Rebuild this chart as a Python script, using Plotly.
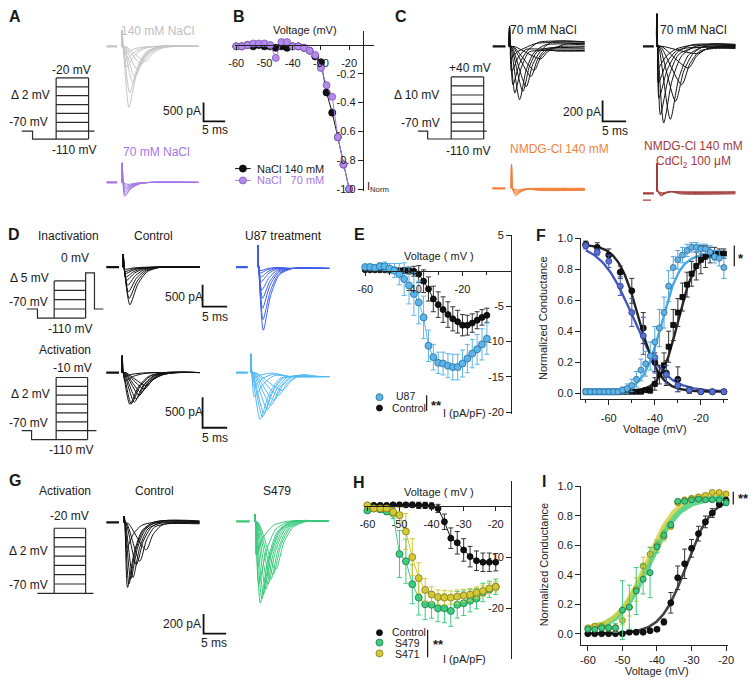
import numpy as np
import plotly.graph_objects as go

W, H = 756, 684
FONT = "Liberation Sans, Arial, Helvetica, sans-serif"

# ======================= DATA =======================
# --- Panel A example sweeps: peak time (ms), peak amplitude (pA) ---
A140_tpk = [0.7, 0.9, 1.1, 1.6, 1.8, 2.5, 3.0, 3.6, 4.5, 5.4]
A140_amp = [180, 370, 550, 1630, 1240, 970, 820, 630, 470, 400]
A70_tpk = [0.6, 0.7, 0.75, 0.8, 0.9, 1.1, 1.4]
A70_amp = [370, 320, 260, 200, 150, 100, 55]

# --- Panel B: normalized I-V ---
B_V = list(range(-60, -18, 2))
B_NaCl140 = [-0.01, -0.01, 0.0, -0.01, 0.0, -0.01, -0.01, -0.02, -0.01, -0.02, -0.01,
             -0.01, -0.02, -0.04, -0.08, -0.12, -0.33, -0.47, -0.64, -0.83, -1.0]
B_NaCl70 = [-0.01, -0.01, 0.0, 0.01, 0.01, 0.01, 0.0, -0.09, 0.02, 0.02, -0.01,
            -0.01, -0.02, -0.04, -0.07, -0.16, -0.28, -0.36, -0.64, -0.83, -1.0]

# --- Panel C example sweeps ---
C1_tpk = [0.35, 0.5, 0.8, 1.2, 2.2, 2.9, 3.6, 4.6, 5.3, 6.7]
C1_amp = [115, 245, 370, 450, 515, 435, 390, 290, 230, 120]
C1_ss = [30, -25, 40, -40, 15, -15, 45, -45, 0, 25]
C2_tpk = [0.3, 0.35, 0.5, 0.8, 1.5, 2.9, 4.0, 5.3, 6.7, 8.5]
C2_amp = [210, 355, 500, 660, 740, 705, 530, 370, 210, 70]
C2_ss = [10, -10, 15, -15, 5, -5, 20, -20, 0, 10]
C3_tpk = [0.9, 1.0, 1.1, 1.2, 1.4]
C3_amp = [70, 55, 40, 28, 15]
C3_ss = [-20, -15, -10, -5, 0]
C4_tpk = [0.9, 1.0, 1.1, 1.2]
C4_amp = [45, 35, 25, 15]
C4_ss = [-25, -18, -10, -5]

# --- Panel D example sweeps ---
D1_tpk = [0.3, 0.4, 0.45, 0.55, 0.75, 0.95, 1.1, 1.25, 1.4]
D1_amp = [50, 100, 150, 230, 300, 420, 570, 720, 870]
D2_tpk = [0.45, 0.5, 0.65, 0.7, 0.85, 1.0, 1.0, 1.1, 1.15]
D2_amp = [80, 135, 225, 340, 530, 720, 950, 1210, 1455]
D3_tpk = [0.5, 0.6, 1.6, 1.9, 2.5, 2.9, 3.5, 3.9, 4.5, 4.9]
D3_amp = [55, 135, 520, 510, 485, 430, 375, 325, 270, 215]
D4_tpk = [0.4, 0.55, 0.75, 1.9, 2.4, 2.7, 3.4, 4.1, 4.7, 5.6, 6.4]
D4_amp = [80, 215, 400, 765, 725, 670, 605, 535, 455, 375, 295]

# --- Panel E: current density (pA/pF) ---
E_V = list(range(-60, -8, 2))
E_U87 = [0.5, 0.5, 0.4, 0.6, 0.6, 0.3, 0.0, -0.5, -1.2, -2.1, -3.3, -4.5, -6.6, -10.6,
         -12.2, -13.0, -13.1, -13.4, -13.6, -13.6, -13.1, -12.4, -11.7, -11.1, -10.4, -9.6]
E_U87_err = [0.3, 0.4, 0.4, 0.5, 0.6, 0.7, 1.0, 1.5, 2.3, 2.6, 3.0, 3.0, 3.0, 2.2,
             1.8, 1.5, 1.6, 1.7, 1.8, 1.8, 1.9, 2.0, 2.0, 2.1, 2.2, 2.2]
E_Ctrl = [0.1, 0.1, 0.1, 0.1, 0.1, 0.1, 0.1, 0.0, 0.0, 0.0, -0.1, -0.5, -1.5, -2.6,
          -4.0, -4.8, -5.5, -6.2, -6.8, -7.2, -7.7, -7.7, -7.4, -7.0, -6.6, -6.3]
E_Ctrl_err = [0.2, 0.2, 0.2, 0.2, 0.2, 0.2, 0.2, 0.3, 0.4, 0.5, 0.7, 1.2, 1.6, 1.7,
              1.8, 1.8, 1.8, 1.8, 1.7, 1.6, 1.5, 1.4, 1.3, 1.2, 1.1, 1.0]

# --- Panel F: normalized conductance ---
F_V_inact = list(range(-70, -5, 5))
F_inact_ctrl = [0.96, 0.94, 0.89, 0.78, 0.66, 0.42, 0.20, 0.13, 0.09, 0.02, 0.01, 0.01, 0.01]
F_inact_ctrl_err = [0.02, 0.03, 0.04, 0.04, 0.08, 0.10, 0.06, 0.08, 0.08, 0.02, 0.01, 0.01, 0.01]
F_inact_u87 = [0.95, 0.91, 0.85, 0.69, 0.52, 0.37, 0.23, 0.12, 0.05, 0.02, 0.01, 0.01, 0.01]
F_inact_u87_err = [0.02, 0.02, 0.04, 0.06, 0.09, 0.12, 0.10, 0.06, 0.04, 0.01, 0.01, 0.01, 0.01]
F_V_act = list(range(-70, -8, 2))
F_act_u87 = [0.01] * 8 + [0.02, 0.03, 0.05, 0.09, 0.15, 0.19, 0.24, 0.33, 0.42, 0.52, 0.69,
                         0.81, 0.86, 0.89, 0.92, 0.94, 0.94, 0.93, 0.93, 0.91, 0.88, 0.87, 0.81]
F_act_u87_err = [0.02] * 8 + [0.02, 0.03, 0.04, 0.05, 0.07, 0.08, 0.09, 0.10, 0.12, 0.10, 0.10,
                             0.07, 0.06, 0.05, 0.04, 0.03, 0.03, 0.03, 0.03, 0.04, 0.04, 0.05, 0.07]
F_act_ctrl = [0.01] * 13 + [0.02, 0.02, 0.06, 0.12, 0.18, 0.30, 0.44, 0.52, 0.62, 0.70, 0.77,
                           0.82, 0.86, 0.88, 0.89, 0.90, 0.90, 0.90]
F_act_ctrl_err = [0.01] * 13 + [0.01, 0.02, 0.04, 0.06, 0.08, 0.10, 0.10, 0.09, 0.09, 0.08, 0.08,
                               0.09, 0.09, 0.07, 0.05, 0.04, 0.03, 0.03]
# Boltzmann fit parameters
F_fit_act_u87 = dict(top=0.90, bottom=0.01, vhalf=-37.0, k=4.0)
F_fit_act_ctrl = dict(top=0.91, bottom=0.01, vhalf=-30.0, k=3.8)
F_fit_inact_u87 = dict(top=0.97, bottom=0.01, vhalf=-49.5, k=-7.0)
F_fit_inact_ctrl = dict(top=0.96, bottom=0.01, vhalf=-47.0, k=-4.5)

# --- Panel G example sweeps ---
G1_tpk = [0.6, 0.8, 1.1, 1.5, 2.0, 2.75, 3.5, 4.9]
G1_amp = [260, 660, 625, 575, 560, 430, 395, 280]
G1_ss = [0, 5, -5, 10, -10, 15, -15, 0]
G2_tpk = [0.3, 0.9, 1.25, 1.6, 1.95, 2.45, 2.95, 3.55, 4.05, 4.65]
G2_amp = [340, 640, 830, 790, 740, 690, 640, 590, 540, 490]

# --- Panel H: current density (pA/pF) ---
H_V = list(range(-60, -18, 2))
H_Ctrl = [0.1, 0.1, 0.1, 0.1, 0.2, 0.2, 0.2, 0.2, 0.1, 0.1, 0.0, -0.5, -3.1, -6.3,
          -7.2, -8.6, -9.9, -10.7, -11.0, -11.0, -11.0]
H_Ctrl_err = [0.2, 0.2, 0.2, 0.2, 0.3, 0.3, 0.4, 0.5, 0.6, 0.6, 0.6, 0.8, 1.5, 2.0,
              2.2, 2.2, 2.0, 1.9, 1.8, 1.8, 1.7]
H_S479 = [-0.9, -0.5, -0.7, -1.1, -1.5, -9.4, -10.8, -15.3, -17.9, -19.2, -19.3, -20.0,
          -20.0, -20.5, -19.3, -19.0, -18.5, -18.1, -16.9, -16.3, -15.8]
H_S479_err = [0.4, 0.4, 0.5, 0.6, 1.0, 4.6, 4.3, 3.8, 3.4, 3.0, 2.6, 2.6, 2.8, 3.0,
              2.6, 2.4, 2.2, 2.0, 1.8, 1.6, 1.5]
H_S471 = [0.1, -0.5, -0.5, -0.5, -1.2, -1.8, -5.0, -10.0, -14.1, -16.4, -17.3, -17.8,
          -17.9, -17.9, -17.7, -17.5, -17.3, -16.9, -16.6, -16.1, -15.8]
H_S471_err = [0.3, 0.3, 0.4, 0.5, 0.8, 1.5, 3.5, 3.6, 3.0, 2.2, 1.5, 1.4, 1.4, 1.3,
              1.3, 1.2, 1.2, 1.1, 1.1, 1.0, 1.0]

# --- Panel I: normalized conductance ---
I_V = list(range(-60, -18, 2))
I_Ctrl = [0.0, 0.0, 0.0, 0.0, 0.0, 0.0, 0.01, 0.01, 0.01, 0.02, 0.03, 0.08, 0.21, 0.38,
          0.475, 0.58, 0.68, 0.76, 0.82, 0.88, 0.905]
I_Ctrl_err = [0.005] * 11 + [0.02, 0.07, 0.08, 0.10, 0.06, 0.05, 0.04, 0.03, 0.02, 0.02]
I_S479 = [0.03, 0.03, 0.04, 0.04, 0.04, 0.16, 0.18, 0.29, 0.37, 0.415, 0.59, 0.67, 0.74,
          0.90, 0.90, 0.91, 0.915, 0.91, 0.91, 0.91, 0.89]
I_S479_err = [0.01, 0.01, 0.02, 0.02, 0.03, 0.20, 0.15, 0.16, 0.10, 0.17, 0.04, 0.03, 0.02,
              0.01, 0.01, 0.01, 0.01, 0.01, 0.01, 0.01, 0.02]
I_S471 = [0.04, 0.05, 0.05, 0.04, 0.04, 0.09, 0.18, 0.30, 0.46, 0.54, 0.60, 0.66, 0.73,
          0.89, 0.91, 0.92, 0.93, 0.94, 0.96, 0.96, 0.95]
I_S471_err = [0.01, 0.02, 0.02, 0.02, 0.02, 0.03, 0.06, 0.08, 0.06, 0.05, 0.04, 0.03, 0.02,
              0.01, 0.01, 0.01, 0.01, 0.01, 0.01, 0.01, 0.01]
I_fit_ctrl = dict(top=0.93, bottom=0.0, vhalf=-31.5, k=3.7)
I_fit_S479 = dict(top=0.93, bottom=0.02, vhalf=-42.5, k=4.3)
I_fit_S471 = dict(top=0.96, bottom=0.02, vhalf=-43.0, k=4.3)

# ======================= FIGURE =======================
fig = go.Figure()
axes = {}
annotations = []
counter = [0]


def add_axis(box, xmap, ymap, xkw=None, ykw=None):
    counter[0] += 1
    k = counter[0]
    x0, x1, y0, y1 = box
    x0, y0 = max(0, x0), max(0, y0)
    x1, y1 = min(W, x1), min(H, y1)
    px0, ppx = xmap
    py0, ppy = ymap
    sfx = "" if k == 1 else str(k)
    xa = dict(domain=[x0 / W, x1 / W], range=[(x0 - px0) / ppx, (x1 - px0) / ppx],
              visible=False, showgrid=False, zeroline=False, fixedrange=True, anchor="y" + sfx)
    ya = dict(domain=[1 - y1 / H, 1 - y0 / H], range=[(py0 - y1) / ppy, (py0 - y0) / ppy],
              visible=False, showgrid=False, zeroline=False, fixedrange=True, anchor="x" + sfx)
    if xkw:
        xa.update(xkw)
    if ykw:
        ya.update(ykw)
    axes["xaxis" + sfx] = xa
    axes["yaxis" + sfx] = ya
    return "x" + sfx, "y" + sfx


def T(s, x, y, size=12, color="#1a1a1a", xanchor="center", bold=False, angle=0):
    if bold:
        s = "<b>" + s + "</b>"
    annotations.append(dict(text=s, x=x / W, y=1 - y / H, xref="paper", yref="paper",
                            showarrow=False, xanchor=xanchor, yanchor="middle", textangle=angle,
                            font=dict(family=FONT, size=size, color=color)))


def sweep_shape(tpk, amp, spike, R, tend, ss):
    t_on = max(0.25, 0.2 * tpk)
    ts = [0.0, 0.07, 0.2, t_on, tpk, tpk + 0.25 * R, tpk + 0.55 * R, tpk + R, tend]
    ys = [0.0, spike, 0.04 * spike, -0.04 * amp, -amp, -0.45 * amp, -0.12 * amp, ss, ss]
    return ts, ys


def draw_sweeps(tpk, amp, color, t0, base, ms, pa, spike, R, tend, hold, ss=None,
                hold_level=0.0, extra_hold=None):
    if ss is None:
        ss = [0] * len(tpk)
    h0, h1 = hold
    box = (t0 + (h0 - 1) * ms, t0 + (tend + 1) * ms,
           base - (spike + 60) * pa - 3, base + (max(amp) + 120) * pa + 3)
    xa, ya = add_axis(box, (t0, ms), (base, pa))
    for tp, a, s in zip(tpk, amp, ss):
        xs, ys = sweep_shape(tp, a, spike, R, tend, s)
        fig.add_trace(go.Scatter(x=xs, y=ys, mode="lines", xaxis=xa, yaxis=ya,
                                 line=dict(color=color, width=1, shape="spline", smoothing=0.7),
                                 hoverinfo="skip", showlegend=False))
    fig.add_trace(go.Scatter(x=[h0, h1], y=[hold_level, hold_level], mode="lines", xaxis=xa, yaxis=ya,
                             line=dict(color=color, width=2.2), hoverinfo="skip", showlegend=False))
    if extra_hold is not None:
        fig.add_trace(go.Scatter(x=[h0, h1 - 0.6], y=[extra_hold, extra_hold], mode="lines",
                                 xaxis=xa, yaxis=ya, line=dict(color=color, width=1.2),
                                 hoverinfo="skip", showlegend=False))


def draw_protocol(x0, y0, dy, t, n_levels, pre=None, test=None):
    top = n_levels - 1
    hi = max(top, test if test is not None else top)
    lo = pre if pre is not None else 0
    box = (x0 - 3, x0 + t[-1] + 3, y0 - hi * dy - 3, y0 - lo * dy + 3)
    xa, ya = add_axis(box, (x0, 1.0), (y0, dy))
    xs, ys = [], []

    def seg(pts):
        for p in pts:
            xs.append(p[0]); ys.append(p[1])
        xs.append(None); ys.append(None)

    if pre is None:  # steps straight from holding level
        seg([(t[0], 0), (t[3], 0)])
        seg([(t[1], 0), (t[1], top)])
        seg([(t[2], 0), (t[2], top)])
        for k in range(1, n_levels):
            seg([(t[1], k), (t[2], k)])
    else:
        seg([(t[0], 0), (t[1], 0), (t[1], pre), (t[3], pre)])
        seg([(t[2], pre), (t[2], top)])
        for k in range(1, n_levels):
            seg([(t[2], k), (t[3], k)])
        if test is None:
            seg([(t[3], pre), (t[3], top)])
            seg([(t[2], 0), (t[4], 0)])
        else:
            seg([(t[2], 0), (t[3], 0)])
            seg([(t[3], pre), (t[3], test), (t[4], test), (t[4], 0), (t[5], 0)])
    fig.add_trace(go.Scatter(x=xs, y=ys, mode="lines", xaxis=xa, yaxis=ya,
                             line=dict(color="#2a2a2a", width=1.2), hoverinfo="skip", showlegend=False))


def draw_scalebar(cx, cy, ms, pa, t_len, i_len):
    hw, hv = t_len * ms, i_len * pa
    xa, ya = add_axis((cx - 3, cx + hw + 3, cy - hv - 3, cy + 3), (cx, ms), (cy, pa))
    fig.add_trace(go.Scatter(x=[0, 0, t_len], y=[i_len, 0, 0], mode="lines", xaxis=xa, yaxis=ya,
                             line=dict(color="#111", width=1.8), hoverinfo="skip", showlegend=False))


def boltz(V, p):
    V = np.asarray(V, dtype=float)
    return p["bottom"] + (p["top"] - p["bottom"]) / (1 + np.exp((p["vhalf"] - V) / p["k"]))


TICKFONT = dict(family=FONT, size=11, color="#1a1a1a")
AXLINE = dict(visible=True, showline=True, linecolor="#222", linewidth=1, ticks="outside",
              tickcolor="#222", tickwidth=1, tickfont=TICKFONT, showgrid=False, zeroline=False)


def minor(vals):
    return dict(tickmode="array", tickvals=vals, ticks="outside", ticklen=3, tickcolor="#222", showgrid=False)


def pts(xa, ya, x, y, err=None, fill="#111", edge="#000", size=7, symbol="circle", line=None, ecolor=None):
    fig.add_trace(go.Scatter(
        x=x, y=y, xaxis=xa, yaxis=ya, mode="lines+markers" if line else "markers",
        line=line, cliponaxis=False,
        marker=dict(color=fill, size=size, symbol=symbol, line=dict(color=edge, width=0.8)),
        error_y=dict(type="data", array=err, color=ecolor or fill, thickness=1, width=2.5,
                     visible=err is not None),
        hoverinfo="skip", showlegend=False))


# ---------------- Panel A ----------------
draw_protocol(15, 127, 9.0, [0, 11, 35, 68, 74], 7, pre=-0.89)
draw_sweeps(A140_tpk, A140_amp, "#c6c6c6", 117, 41, 4.4, 0.038, 420, 7.0, 17.7, (-3.6, -1.1))
draw_sweeps(A70_tpk, A70_amp, "#a577e3", 117, 179, 4.4, 0.038, 520, 6.0, 17.7, (-3.6, -1.1))
draw_scalebar(200, 117, 4.4, 0.038, 5, 500)
T("A", 8, 11, 16, bold=True)
T("140 mM NaCl", 153, 25, 12, "#c0c0c0")
T("-20 mV", 66, 65)
T("Δ 2 mV", 24, 90)
T("-70 mV", 22, 118)
T("-110 mV", 68, 146)
T("500 pA", 178, 107)
T("5 ms", 212, 126)
T("70 mM NaCl", 152, 148, 12, "#a577e3")

# ---------------- Panel B ----------------
xb, yb = add_axis((232, 373, 25, 188), (405.5, 2.87), (39.5, 146.25),
                  xkw=dict(AXLINE, anchor="free", position=1 - 39.5 / H, ticklen=4, ticklabelstandoff=4,
                           tickvals=[-60, -50, -40, -30, -20], ticktext=["-60", "-50", "-40", "-30", "-20"]),
                  ykw=dict(AXLINE, anchor="free", position=362 / W, side="left", ticklen=5,
                           tickvals=[-0.2, -0.4, -0.6, -0.8, -1.0],
                           ticktext=["-0.2", "-0.4", "-0.6", "-0.8", "-1.0"]))
pts(xb, yb, B_V, B_NaCl140, fill="#111", edge="#000", size=7, line=dict(color="#111", width=1))
pts(xb, yb, B_V, B_NaCl70, fill="#b48ce8", edge="#7d52c0", size=7, line=dict(color="#a577e3", width=1))
T("B", 236, 11, 16, bold=True)
T("Voltage (mV)", 303, 24, 11)
T("I<sub>Norm</sub>", 364, 184, 11, xanchor="left")

# ---------------- Panel C ----------------
draw_protocol(418, 127, 9.17, [0, 10, 34, 67, 70], 7, pre=-0.87)
draw_sweeps(C1_tpk, C1_amp, "#111", 511, 41, 4.8, 0.105, 190, 5.5, 16.0, (-3.5, -0.8), ss=C1_ss)
draw_sweeps(C2_tpk, C2_amp, "#111", 661, 41, 4.8, 0.105, 314, 7.0, 16.7, (-2.9, -0.6), ss=C2_ss)
draw_sweeps(C3_tpk, C3_amp, "#f47f3a", 513, 185, 4.8, 0.105, 230, 5.0, 15.6, (-4.0, -1.25), ss=C3_ss)
draw_sweeps(C4_tpk, C4_amp, "#a33b3b", 661, 188, 4.8, 0.105, 270, 4.0, 16.7, (-2.9, -0.6), ss=C4_ss,
            hold_level=-20, extra_hold=-85)
draw_scalebar(606, 117, 4.8, 0.105, 5, 200)
T("C", 401, 11, 16, bold=True)
T("+40 mV", 471, 63)
T("Δ 10 mV", 417, 90)
T("-70 mV", 421, 119)
T("-110 mV", 469, 147)
T("70 mM NaCl", 546, 24)
T("70 mM NaCl", 699, 24)
T("200 pA", 585, 108)
T("5 ms", 619, 127)
T("NMDG-Cl 140 mM", 562, 145, 12, "#f47f3a")
T("NMDG-Cl 140 mM", 699, 142, 12, "#a33b3b")
T("CdCl<sub>2</sub> 100 μM", 699, 158, 12, "#a33b3b")

# ---------------- Panel D ----------------
draw_protocol(20, 307.5, 9.5, [0, 11, 28, 60, 69, 78], 4, pre=-0.97, test=3.87)
draw_protocol(15, 431, 9.0, [0, 10, 35, 67, 76], 7, pre=-1.0)
draw_sweeps(D1_tpk, D1_amp, "#111", 118, 265, 5.0, 0.044, 295, 6.5, 15.6, (-3.4, -0.8))
draw_sweeps(D2_tpk, D2_amp, "#3f5ee8", 255, 265, 5.0, 0.044, 500, 6.0, 14.6, (-4.4, -2.0),
            ss=[-30] * len(D2_tpk))
draw_sweeps(D3_tpk, D3_amp, "#111", 117, 372, 5.0, 0.062, 275, 7.0, 15.8, (-3.2, -0.6))
draw_sweeps(D4_tpk, D4_amp, "#52b9f2", 248, 372, 5.0, 0.062, 305, 7.5, 16.0, (-3.0, -0.6),
            ss=[-65] * len(D4_tpk))
draw_scalebar(199, 305, 5.0, 0.044, 5, 500)
draw_scalebar(199, 428, 5.0, 0.062, 5, 500)
T("D", 7, 232, 16, bold=True)
T("Inactivation", 63, 233)
T("Control", 149, 233)
T("U87 treatment", 281, 233)
T("0 mV", 69, 256)
T("Δ 5 mV", 23, 276)
T("-70 mV", 22, 300)
T("-110 mV", 64, 328)
T("500 pA", 180, 295)
T("5 ms", 212, 316)
T("Activation", 59, 349)
T("-10 mV", 67, 367)
T("Δ 2 mV", 24, 394)
T("-70 mV", 22, 423)
T("-110 mV", 65, 451)
T("500 pA", 180, 412)
T("5 ms", 212, 438)

# ---------------- Panel E ----------------
xe, ye = add_axis((363, 513, 232, 414), (513, 2.475), (268.5, 7.2),
                  xkw=dict(AXLINE, anchor="free", position=1 - 268.5 / H, ticklen=4, ticklabelstandoff=4,
                           tickvals=[-60, -40, -20], ticktext=["-60", "-40", "-20"],
                           minor=minor([-50, -30, -10])),
                  ykw=dict(AXLINE, anchor="free", position=513 / W, side="left", ticklen=5,
                           tickvals=[5, -5, -10, -15, -20], ticktext=["5", "-5", "-10", "-15", "-20"]))
pts(xe, ye, E_V, E_Ctrl, E_Ctrl_err, fill="#111", edge="#000", size=6,
    line=dict(color="#111", width=1), ecolor="#333")
pts(xe, ye, E_V, E_U87, E_U87_err, fill="#5bb5e8", edge="#2a6f9f", size=7,
    line=dict(color="#5bb5e8", width=1), ecolor="#5bb5e8")
T("E", 359, 232, 16, bold=True)
T("Voltage ( mV )", 440, 254, 11)
T("I (pA/pF)", 489, 413, 11, xanchor="right")

# ---------------- Panel F ----------------
xf, yf = add_axis((584, 734, 235, 399), (752.85, 2.3425), (393, 157.5),
                  xkw=dict(AXLINE, ticklen=5, ticklabelstandoff=4, tickvals=[-60, -40, -20],
                           ticktext=["-60", "-40", "-20"], minor=minor([-70, -50, -30, -10])),
                  ykw=dict(AXLINE, ticklen=5, tickvals=[0, 0.2, 0.4, 0.6, 0.8, 1.0],
                           ticktext=["0.0", "0.2", "0.4", "0.6", "0.8", "1.0"]))
fitV_F = np.linspace(-70, -10, 121)
for p, c in [(F_fit_inact_u87, "#4358bb"), (F_fit_inact_ctrl, "#222"),
             (F_fit_act_u87, "#4aa8e2"), (F_fit_act_ctrl, "#222")]:
    fig.add_trace(go.Scatter(x=fitV_F, y=boltz(fitV_F, p), mode="lines", xaxis=xf, yaxis=yf,
                             line=dict(color=c, width=2.4), hoverinfo="skip", showlegend=False))
pts(xf, yf, F_V_act, F_act_ctrl, F_act_ctrl_err, fill="#111", edge="#000", size=5, symbol="square", ecolor="#333")
pts(xf, yf, F_V_inact, F_inact_ctrl, F_inact_ctrl_err, fill="#111", edge="#000", size=6, ecolor="#333")
pts(xf, yf, F_V_inact, F_inact_u87, F_inact_u87_err, fill="#5a6fd0", edge="#2b3a8a", size=6, ecolor="#4358bb")
pts(xf, yf, F_V_act, F_act_u87, F_act_u87_err, fill="#5fb3e6", edge="#2d6a9b", size=6, ecolor="#4aa8e2")
T("F", 543, 233, 16, bold=True)
T("Normalized Conductance", 546, 317, 11, angle=-90)
T("Voltage (mV)", 659, 429, 11)

# ---------------- Panel G ----------------
draw_protocol(31, 596, 9.43, [0, 17, 49, 57], 8)
draw_sweeps(G1_tpk, G1_amp, "#111", 119, 524, 4.6, 0.1, 60, 6.0, 16.7, (-3.9, -1.1), ss=G1_ss)
draw_sweeps(G2_tpk, G2_amp, "#38c97a", 252, 523, 4.6, 0.1, 70, 7.0, 16.4, (-4.1, -1.1))
draw_scalebar(200, 637, 4.6, 0.1, 5, 200)
T("G", 8, 482, 16, bold=True)
T("Activation", 59, 492)
T("Control", 150, 492)
T("S479", 275, 492)
T("-20 mV", 64, 518)
T("Δ 2 mV", 22, 553)
T("-70 mV", 22, 588)
T("200 pA", 178, 627)
T("5 ms", 211, 646)

# ---------------- Panel H ----------------
xh, yh = add_axis((363, 513, 482, 663), (562.6, 3.265), (507.3, 5.2),
                  xkw=dict(AXLINE, anchor="free", position=1 - 507.3 / H, ticklen=4, ticklabelstandoff=4,
                           tickvals=[-60, -50, -40, -30, -20], ticktext=["-60", "-50", "-40", "-30", "-20"]),
                  ykw=dict(AXLINE, anchor="free", position=513 / W, side="left", ticklen=5,
                           tickvals=[-10, -20, -30], ticktext=["-10", "-20", "-30"]))
pts(xh, yh, H_V, H_Ctrl, H_Ctrl_err, fill="#111", edge="#000", size=6,
    line=dict(color="#111", width=1), ecolor="#333")
pts(xh, yh, H_V, H_S479, H_S479_err, fill="#3dcc7e", edge="#1f7a4a", size=7,
    line=dict(color="#3dcc7e", width=1), ecolor="#3dcc7e")
pts(xh, yh, H_V, H_S471, H_S471_err, fill="#d2c838", edge="#857a10", size=7,
    line=dict(color="#d2c838", width=1), ecolor="#d2c838")
T("H", 358, 484, 16, bold=True)
T("Voltage ( mV )", 440, 493, 11)
T("I (pA/pF)", 489, 663, 11, xanchor="right")

# ---------------- Panel I ----------------
xi, yi = add_axis((584, 734, 487, 648), (802.05, 3.5175), (637, 149.3),
                  xkw=dict(AXLINE, ticklen=5, tickvals=[-60, -50, -40, -30, -20],
                           ticktext=["-60", "-50", "-40", "-30", "-20"]),
                  ykw=dict(AXLINE, ticklen=5, tickvals=[0, 0.2, 0.4, 0.6, 0.8, 1.0],
                           ticktext=["0.0", "0.2", "0.4", "0.6", "0.8", "1.0"]))
fitV_I = np.linspace(-60, -20, 81)
for p, c, w in [(I_fit_ctrl, "#444", 2.6), (I_fit_S479, "rgba(70,205,120,0.85)", 6),
                (I_fit_S471, "rgba(214,206,60,0.8)", 4)]:
    fig.add_trace(go.Scatter(x=fitV_I, y=boltz(fitV_I, p), mode="lines", xaxis=xi, yaxis=yi,
                             line=dict(color=c, width=w), hoverinfo="skip", showlegend=False))
pts(xi, yi, I_V, I_Ctrl, I_Ctrl_err, fill="#111", edge="#000", size=6, ecolor="#333")
pts(xi, yi, I_V, I_S471, I_S471_err, fill="#d2c838", edge="#857a10", size=6, ecolor="#d2c838")
pts(xi, yi, I_V, I_S479, I_S479_err, fill="#3dcc7e", edge="#1a6a40", size=6, ecolor="#3dcc7e")
T("I", 546, 483, 16, bold=True)
T("Normalized Conductance", 546, 567, 11, angle=-90)
T("Voltage (mV)", 661, 675, 11)

# ---------------- legends & significance (pixel overlay) ----------------
xo, yo = add_axis((0, W, 0, H), (0, 1.0), (0, -1.0))


def glyph(x, y, fill, edge, size=7, seg=None, lc=None):
    if seg:
        fig.add_trace(go.Scatter(x=list(seg), y=[y, y], mode="lines", xaxis=xo, yaxis=yo,
                                 line=dict(color=lc, width=1), hoverinfo="skip", showlegend=False))
    fig.add_trace(go.Scatter(x=[x], y=[y], mode="markers", xaxis=xo, yaxis=yo,
                             marker=dict(color=fill, size=size, line=dict(color=edge, width=0.8)),
                             hoverinfo="skip", showlegend=False))


def vbar(x, y0, y1):
    fig.add_trace(go.Scatter(x=[x, x], y=[y0, y1], mode="lines", xaxis=xo, yaxis=yo,
                             line=dict(color="#111", width=1.2), hoverinfo="skip", showlegend=False))


glyph(240, 165, "#111", "#000", 7, (232, 248), "#111")
glyph(240, 177, "#b48ce8", "#7d52c0", 7, (232, 248), "#a577e3")
T("NaCl 140 mM", 252, 165, 11, xanchor="left")
T("NaCl   70 mM", 252, 177, 11, "#a577e3", xanchor="left")

glyph(379, 397, "#5bb5e8", "#2a6f9f", 7)
glyph(379, 408, "#111", "#000", 6)
T("U87", 405, 396, 10.5)
T("Control", 390, 408, 10.5, xanchor="left")
vbar(427, 395, 411)
T("**", 437, 405, 13, bold=True)

glyph(379, 636, "#111", "#000", 6)
glyph(379, 646, "#3dcc7e", "#1f7a4a", 7)
glyph(379, 657, "#d2c838", "#857a10", 7)
T("Control", 390, 635.5, 10.5, xanchor="left")
T("S479", 393, 646, 10.5, xanchor="left")
T("S471", 393, 657.5, 10.5, xanchor="left")
vbar(428, 633, 661)
T("**", 439, 648, 13, bold=True)

vbar(740, 243, 264)
T("*", 747, 256, 13, bold=True)
vbar(739, 493, 506)
T("**", 749, 500, 13, bold=True)

fig.update_layout(width=W, height=H, autosize=False, margin=dict(l=0, r=0, t=0, b=0),
                  paper_bgcolor="white", plot_bgcolor="rgba(0,0,0,0)", showlegend=False,
                  font=dict(family=FONT, size=12, color="#1a1a1a"),
                  annotations=annotations, **axes)
fig.write_html("out.html", config={"displayModeBar": False},
               post_script="document.body.style.margin='0';document.body.style.padding='0';")
